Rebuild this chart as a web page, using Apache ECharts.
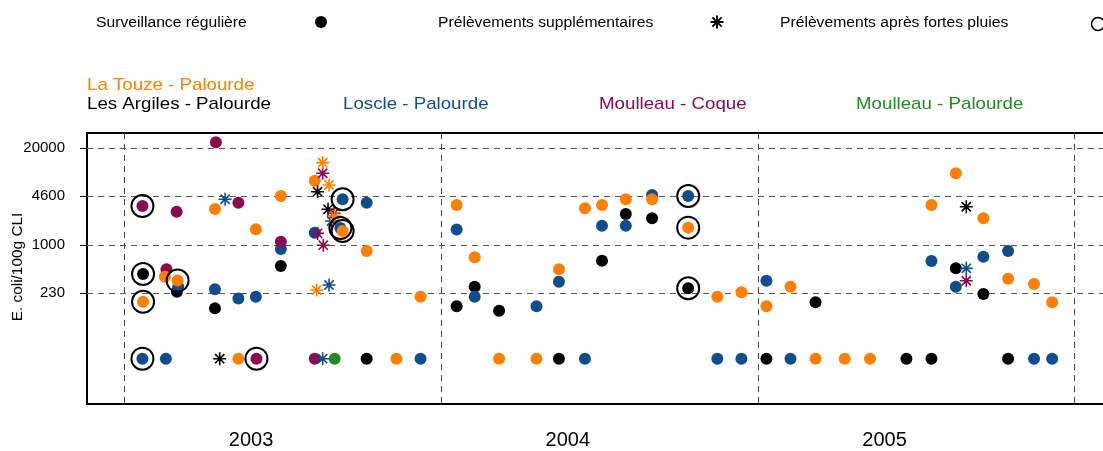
<!DOCTYPE html>
<html>
<head>
<meta charset="utf-8">
<script src="https://cdn.jsdelivr.net/npm/echarts@6/dist/echarts.min.js"></script>
<style>
  html, body { margin: 0; padding: 0; background: #fff; }
  #chart { width: 1103px; height: 451px; }
</style>
</head>
<body>
<div id="chart"></div>
<script>
// valeur de tracé des résultats non détectés
const ND = 30

const yTicks = [230, 1000, 4600, 20000]
const yearBounds = [2003, 2004, 2005, 2006]
const yearLabels = [2003.4, 2004.4, 2005.4]

// Les Argiles - Palourde
const argilesRegular = [[2003.166, 237], [2003.286, 142], [2003.494, 525], [2003.765, ND], [2004.049, 152], [2004.106, 277], [2004.183, 132], [2004.372, ND], [2004.508, 619], [2004.583, 2620], [2004.666, 2290], [2005.027, ND], [2005.182, 171], [2005.469, ND], [2005.548, ND], [2005.625, 489], [2005.712, 221], [2005.790, ND]]
const argilesSupp = [[2003.301, ND], [2003.610, 5220], [2003.643, 3030], [2005.658, 3280]]
const argilesRain = [[2003.059, 410], [2004.780, 264]]

// Loscle - Palourde
const loscleRegular = [[2003.131, ND], [2003.170, 277], [2003.286, 256], [2003.360, 193], [2003.415, 203], [2003.494, 888], [2003.601, 1470], [2003.765, 3720], [2003.935, ND], [2004.049, 1620], [2004.106, 203], [2004.301, 152], [2004.372, 323], [2004.454, ND], [2004.508, 1820], [2004.583, 1820], [2004.666, 4710], [2004.872, ND], [2004.948, ND], [2005.027, 333], [2005.103, ND], [2005.548, 613], [2005.625, 277], [2005.712, 700], [2005.790, 834], [2005.872, ND], [2005.929, ND]]
const loscleSupp = [[2003.318, 4130], [2003.654, 2110], [2003.646, 292], [2003.626, ND], [2005.658, 489]]
const loscleRain = [[2003.057, ND], [2003.682, 1700], [2003.689, 4130], [2004.780, 4570]]

// Moulleau - Coque
const coqueRegular = [[2003.133, 474], [2003.165, 2810], [2003.289, 24000], [2003.360, 3720], [2003.494, 1110], [2003.601, ND]]
const coqueSupp = [[2003.626, 9220], [2003.662, 2680], [2003.610, 1440], [2003.628, 1000], [2005.658, 333]]
const coqueRain = [[2003.057, 3350], [2003.417, ND]]

// Moulleau - Palourde
const moulleauRegular = [[2003.664, ND]]
const moulleauSupp = []
const moulleauRain = []

// La Touze - Palourde
const touzeRegular = [[2003.128, 377], [2003.286, 3060], [2003.360, ND], [2003.415, 1630], [2003.494, 4570], [2003.601, 7330], [2003.765, 834], [2003.859, ND], [2003.935, 203], [2004.049, 3460], [2004.106, 689], [2004.183, ND], [2004.301, ND], [2004.372, 474], [2004.454, 3120], [2004.508, 3460], [2004.583, 4130], [2004.666, 4130], [2004.872, 203], [2004.948, 233], [2005.027, 152], [2005.103, 277], [2005.182, ND], [2005.274, ND], [2005.354, ND], [2005.548, 3460], [2005.625, 9220], [2005.712, 2290], [2005.790, 354], [2005.872, 301], [2005.929, 171]]
const touzeSupp = [[2003.626, 12800], [2003.646, 6420], [2003.664, 2460], [2003.607, 250]]
const touzeRain = [[2003.059, 174], [2003.168, 335], [2003.689, 1550], [2004.780, 1720]]

const FONT = '"Liberation Sans", Arial, sans-serif'
const ASTERISK = 'path://M10 0L10 20M0 10L20 10M2.93 2.93L17.07 17.07M2.93 17.07L17.07 2.93'

// ordre de tracé : l'orange passe devant
const sites = [
  { color: '#000000', regular: argilesRegular, supp: argilesSupp, rain: argilesRain },
  { color: '#104E8B', regular: loscleRegular, supp: loscleSupp, rain: loscleRain },
  { color: '#8B0A50', regular: coqueRegular, supp: coqueSupp, rain: coqueRain },
  { color: '#228B22', regular: moulleauRegular, supp: moulleauSupp, rain: moulleauRain },
  { color: '#FF7F00', regular: touzeRegular, supp: touzeSupp, rain: touzeRain }
]

const series = []
sites.forEach(s => {
  series.push({
    type: 'scatter', data: s.regular.concat(s.rain), symbol: 'circle', symbolSize: 12,
    itemStyle: { color: s.color, opacity: 1 }, z: 2
  })
})
sites.forEach(s => {
  series.push({
    type: 'scatter', data: s.supp, symbol: ASTERISK, symbolSize: 13,
    itemStyle: { color: 'none', borderColor: s.color, borderWidth: 1.6, opacity: 1 }, z: 3
  })
})
series.push({
  type: 'scatter',
  data: sites.reduce((acc, s) => acc.concat(s.rain), []),
  symbol: 'circle', symbolSize: 22,
  itemStyle: { color: 'rgba(0,0,0,0)', borderColor: '#000', borderWidth: 2, opacity: 1 },
  z: 4
})

function label(text, x, y, size, color, align, sx) {
  return {
    type: 'text', x: x, y: y, scaleX: sx || 1.1, silent: true,
    style: { text: text, fill: color, font: size + 'px ' + FONT, align: align || 'left', verticalAlign: 'middle', textAlign: align || 'left', textVerticalAlign: 'middle' }
  }
}

const ax = 717, ay = 22, r = 6.5, d = 4.6
const graphics = [
  label('Surveillance régulière', 96, 23, 14, '#000', 'left', 1.12),
  { type: 'circle', shape: { cx: 321, cy: 22, r: 6 }, style: { fill: '#000' } },
  label('Prélèvements supplémentaires', 438, 23, 14, '#000', 'left', 1.12),
  { type: 'line', shape: { x1: ax, y1: ay - r, x2: ax, y2: ay + r }, style: { stroke: '#000', lineWidth: 2 } },
  { type: 'line', shape: { x1: ax - r, y1: ay, x2: ax + r, y2: ay }, style: { stroke: '#000', lineWidth: 2 } },
  { type: 'line', shape: { x1: ax - d, y1: ay - d, x2: ax + d, y2: ay + d }, style: { stroke: '#000', lineWidth: 2 } },
  { type: 'line', shape: { x1: ax - d, y1: ay + d, x2: ax + d, y2: ay - d }, style: { stroke: '#000', lineWidth: 2 } },
  label('Prélèvements après fortes pluies', 780, 23, 14, '#000', 'left', 1.12),
  { type: 'circle', shape: { cx: 1098, cy: 24, r: 6.5 }, style: { fill: 'none', stroke: '#000', lineWidth: 1.5 } },
  label('La Touze - Palourde', 87, 85, 17, '#FF7F00'),
  label('Les Argiles - Palourde', 87, 104, 17, '#000'),
  label('Loscle - Palourde', 343, 104, 17, '#104E8B'),
  label('Moulleau - Coque', 599, 104, 17, '#8B0A50'),
  label('Moulleau - Palourde', 856, 104, 17, '#228B22'),
  Object.assign(label('E. coli/100g CLI', 18, 267, 14, '#000', 'center', 1.1), { rotation: Math.PI / 2 })
]

const chart = echarts.init(document.getElementById('chart'))
chart.setOption({
  animation: false,
  backgroundColor: '#fff',
  graphic: graphics,
  grid: {
    left: 87, top: 133, width: 1025, bottom: 47,
    show: true, borderColor: '#000', borderWidth: 2,
    containLabel: false, outerBoundsMode: 'none'
  },
  xAxis: {
    type: 'value', min: 2002.882, max: 2006.118,
    axisLine: { show: false },
    axisTick: { show: false, customValues: yearBounds },
    axisLabel: { customValues: yearLabels, formatter: v => String(Math.floor(v)), fontSize: 20, color: '#000', margin: 26, fontFamily: FONT },
    splitLine: { show: true, lineStyle: { color: '#444', width: 1, type: [6, 5] } }
  },
  yAxis: {
    type: 'log', logBase: 10, min: 7.4, max: 32000,
    axisLine: { show: false },
    axisTick: { show: true, inside: false, length: 7, customValues: yTicks, lineStyle: { color: '#000', width: 1 } },
    axisLabel: { customValues: yTicks, formatter: v => String(v), fontSize: 15, color: '#000', margin: 22, fontFamily: FONT },
    splitLine: { show: true, lineStyle: { color: '#555', width: 1, type: [6, 5] } }
  },
  series: series
})
</script>
</body>
</html>
